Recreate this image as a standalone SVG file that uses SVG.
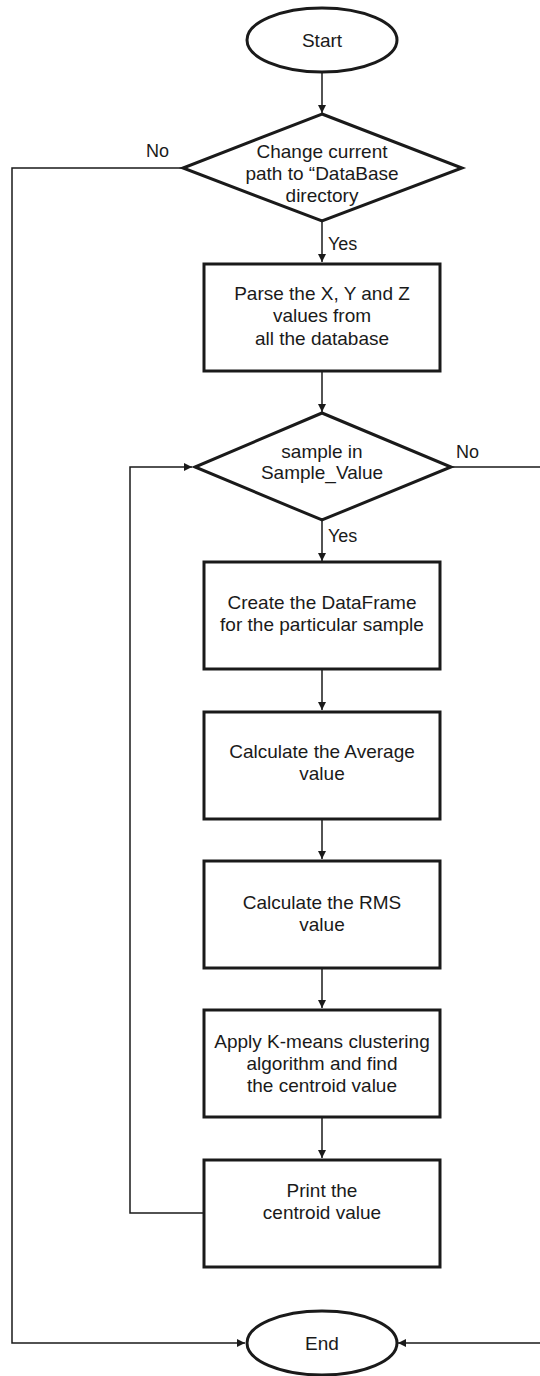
<svg xmlns="http://www.w3.org/2000/svg" width="540" height="1376" viewBox="0 0 540 1376">
<defs>
<marker id="ah" markerWidth="8" markerHeight="8" refX="8" refY="4" orient="auto" markerUnits="userSpaceOnUse">
<path d="M0,0 L8,4 L0,8 Z" fill="#1a1a1a"/>
</marker>
<style>
.shape{fill:#fff;stroke:#1a1a1a;stroke-width:3}
.conn{fill:none;stroke:#1a1a1a;stroke-width:1.5}
.t{font-family:"Liberation Sans",Arial,sans-serif;font-size:19px;fill:#1a1a1a;text-anchor:middle}
.lbl{font-family:"Liberation Sans",Arial,sans-serif;font-size:18px;fill:#1a1a1a}
</style>
</defs>
<rect width="540" height="1376" fill="#fff"/>
<g id="connectors">
<path class="conn" d="M322,72 V113" marker-end="url(#ah)"/>
<path class="conn" d="M322,221 V262" marker-end="url(#ah)"/>
<path class="conn" d="M322,371 V412" marker-end="url(#ah)"/>
<path class="conn" d="M322,520 V561" marker-end="url(#ah)"/>
<path class="conn" d="M322,669 V710" marker-end="url(#ah)"/>
<path class="conn" d="M322,819 V859" marker-end="url(#ah)"/>
<path class="conn" d="M322,968 V1008" marker-end="url(#ah)"/>
<path class="conn" d="M322,1117 V1158" marker-end="url(#ah)"/>
<path class="conn" d="M183,168 H12 V1343 H245" marker-end="url(#ah)"/>
<path class="conn" d="M451,467 H542 V1343 H398" marker-end="url(#ah)"/>
<path class="conn" d="M204,1213 H130 V467 H192" marker-end="url(#ah)"/>
<text class="lbl" x="146" y="157">No</text>
<text class="lbl" x="328" y="250">Yes</text>
<text class="lbl" x="456" y="458">No</text>
<text class="lbl" x="328" y="542">Yes</text>
</g>
<g id="start">
<ellipse class="shape" cx="322" cy="40" rx="75" ry="32"/>
<text class="t" x="322" y="47">Start</text>
</g>
<g id="decision1">
<polygon class="shape" points="322,114 462,168 322,221 183,168"/>
<text class="t" x="322" y="158">Change current</text>
<text class="t" x="322" y="180">path to “DataBase</text>
<text class="t" x="322" y="202">directory</text>
</g>
<g id="parse">
<rect class="shape" x="204" y="264" width="236" height="107"/>
<text class="t" x="322" y="300">Parse the X, Y and Z</text>
<text class="t" x="322" y="322">values from</text>
<text class="t" x="322" y="345">all the database</text>
</g>
<g id="decision2">
<polygon class="shape" points="322,413 451,467 322,520 195,467"/>
<text class="t" x="322" y="458">sample in</text>
<text class="t" x="322" y="479">Sample_Value</text>
</g>
<g id="dataframe">
<rect class="shape" x="204" y="562" width="236" height="107"/>
<text class="t" x="322" y="609">Create the DataFrame</text>
<text class="t" x="322" y="631">for the particular sample</text>
</g>
<g id="average">
<rect class="shape" x="204" y="712" width="236" height="107"/>
<text class="t" x="322" y="758">Calculate the Average</text>
<text class="t" x="322" y="780">value</text>
</g>
<g id="rms">
<rect class="shape" x="204" y="861" width="236" height="107"/>
<text class="t" x="322" y="909">Calculate the RMS</text>
<text class="t" x="322" y="931">value</text>
</g>
<g id="kmeans">
<rect class="shape" x="204" y="1010" width="236" height="107"/>
<text class="t" x="322" y="1048">Apply K-means clustering</text>
<text class="t" x="322" y="1070">algorithm and find</text>
<text class="t" x="322" y="1092">the centroid value</text>
</g>
<g id="print">
<rect class="shape" x="204" y="1160" width="236" height="107"/>
<text class="t" x="322" y="1197">Print the</text>
<text class="t" x="322" y="1219">centroid value</text>
</g>
<g id="end">
<ellipse class="shape" cx="322" cy="1343" rx="75" ry="32"/>
<text class="t" x="322" y="1350">End</text>
</g>
</svg>
